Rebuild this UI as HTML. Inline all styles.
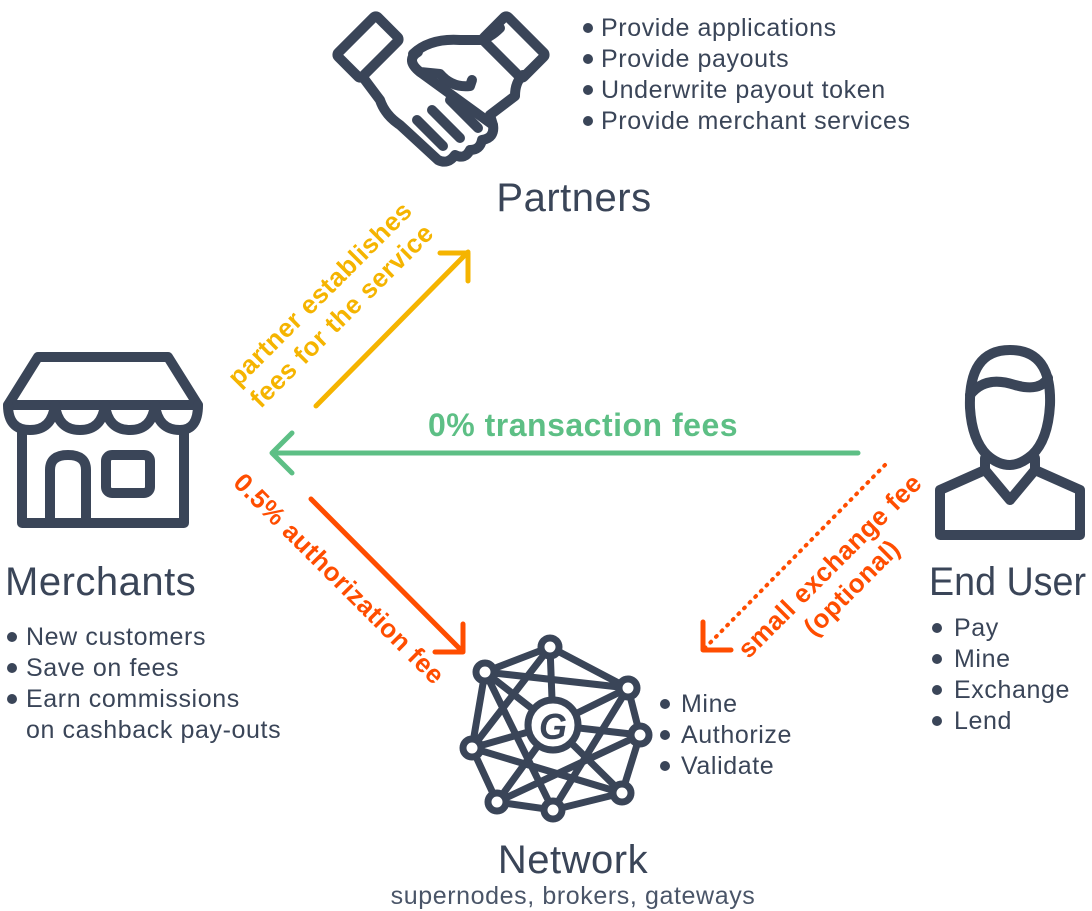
<!DOCTYPE html>
<html><head><meta charset="utf-8"><style>
body{margin:0;background:#fff;}
svg{display:block;font-family:"Liberation Sans",sans-serif;}
.d{fill:#3a4558}
.t{font-size:25px;fill:#3a4558;letter-spacing:0.6px}
.h{font-size:40px;fill:#3a4558;letter-spacing:0.5px}
</style></head><body>
<svg width="1092" height="911" viewBox="0 0 1092 911">
<g fill="none" stroke="#3a4558" stroke-width="10" stroke-linejoin="round" stroke-linecap="round">
 <rect x="340" y="30" width="56" height="34" transform="rotate(-45 368 47)" rx="3"/>
 <rect x="486" y="30" width="56" height="34" transform="rotate(45 514 47)" rx="3"/>
 <path d="M413 54 Q430 38 460 40 L480 40 Q490 38 500 28"/>
 <path d="M418 52 Q405 60 420 72 L440 74 Q452 88 470 86 L472 80"/>
 <path d="M365 80 L380 100 Q385 115 400 125 L438 160 Q448 165 455 155 Q465 160 470 150 Q480 150 482 140 Q495 138 493 125 L490 115 L515 96 Q515 82 523 75"/>
 <path d="M420 72 L493 125"/>
 <path d="M417 120 L443 146"/><path d="M432 110 L460 138"/><path d="M450 100 L478 128"/>
 <path d="M38 357 L168 357 L198 405 L8 405 Z"/>
 <path d="M8 405 Q8 430 30 430 Q52 430 55 405 Q58 430 80 430 Q102 430 105 405 Q108 430 130 430 Q152 430 155 405 Q158 430 180 430 Q198 430 198 405"/>
 <path d="M22 430 L22 523 L184 523 L184 430"/>
 <path d="M50 523 L50 470 Q50 455 68 455 Q86 455 86 470 L86 523"/>
 <rect x="106" y="455" width="44" height="38" rx="6"/>
 <path d="M970 408 Q968 350 1010 350 Q1052 350 1050 405 Q1048 440 1032 455 Q1020 465 1010 465 Q998 465 987 455 Q972 440 970 408 Z"/>
 <path d="M970 395 Q985 375 1015 385 Q1040 392 1048 378"/>
 <path d="M985 458 L985 470 L940 490 L940 535 L1080 535 L1080 490 L1035 470 L1035 458"/>
 <path d="M985 470 L1010 500 L1035 470"/>
</g>
<g stroke="#3a4558" stroke-width="7" fill="none" stroke-linecap="round">
 <path d="M550 647 L485 672 L628 688 L550 647 M628 688 L640 735 L622 793 L553 810 L497 802 L472 748 L485 672
 M550 647 L472 748 M550 647 L553 725 M485 672 L553 725 L622 793 M628 688 L553 725 M640 735 L553 725 L472 748 M553 725 L497 802
 M628 688 L553 810 M472 748 L622 793 M485 672 L553 810 M640 735 L497 802"/>
</g>
<g fill="#fff" stroke="#3a4558" stroke-width="7">
 <circle cx="550" cy="647" r="9"/><circle cx="485" cy="672" r="9"/><circle cx="628" cy="688" r="9"/><circle cx="640" cy="735" r="9"/>
 <circle cx="472" cy="748" r="9"/><circle cx="622" cy="793" r="9"/><circle cx="553" cy="810" r="9"/><circle cx="497" cy="802" r="9"/>
 <circle cx="553" cy="725" r="25"/>
</g>
<text x="553" y="739" text-anchor="middle" font-size="36" font-weight="bold" font-style="italic" class="d">G</text>
<g fill="none" stroke-width="5" stroke-linecap="round" stroke-linejoin="round">
 <path d="M316 406 L468 252 M440 253 L468 253 L468 281" stroke="#f5b400"/>
 <path d="M858 453 L272 453 M292 433 L272 453 L292 473" stroke="#5dbf85"/>
 <path d="M311 499 L463 652 M463 624 L463 652 L435 652" stroke="#ff4d00"/>
 <path d="M885 465 L705 648" stroke="#ff4d00" stroke-width="4" stroke-dasharray="1 7"/>
 <path d="M703 622 L703 650 L731 650" stroke="#ff4d00"/>
</g>
<g font-size="26" font-weight="bold" letter-spacing="0.5">
 <text transform="translate(326 300) rotate(-45)" text-anchor="middle" fill="#f5b400"><tspan x="0" y="0">partner establishes</tspan><tspan x="0" y="31">fees for the service</tspan></text>
 <text x="583" y="436" text-anchor="middle" fill="#5dbf85" font-size="32">0% transaction fees</text>
 <text transform="translate(333 585) rotate(45)" text-anchor="middle" fill="#ff4d00">0.5% authorization fee</text>
 <text transform="translate(836 572) rotate(-45)" text-anchor="middle" fill="#ff4d00"><tspan x="0" y="0">small exchange fee</tspan><tspan x="0" y="31">(optional)</tspan></text>
</g>
<text x="574" y="211" text-anchor="middle" class="h">Partners</text>
<text x="5" y="595" class="h">Merchants</text>
<text x="929" y="595" class="h" textLength="157" lengthAdjust="spacingAndGlyphs" style="letter-spacing:0">End User</text>
<text x="573" y="873" text-anchor="middle" class="h">Network</text>
<text x="573" y="904" text-anchor="middle" class="t" style="fill:#4a5568">supernodes, brokers, gateways</text>
<g class="d">
 <circle cx="588" cy="28" r="5"/><circle cx="588" cy="59" r="5"/><circle cx="588" cy="90" r="5"/><circle cx="588" cy="121" r="5"/>
 <circle cx="12" cy="637" r="5"/><circle cx="12" cy="668" r="5"/><circle cx="12" cy="699" r="5"/>
 <circle cx="665" cy="704" r="5"/><circle cx="665" cy="735" r="5"/><circle cx="665" cy="766" r="5"/>
 <circle cx="937" cy="628" r="5"/><circle cx="937" cy="659" r="5"/><circle cx="937" cy="690" r="5"/><circle cx="937" cy="721" r="5"/>
</g>
<g class="t">
 <text x="601" y="36">Provide applications</text><text x="601" y="67">Provide payouts</text><text x="601" y="98">Underwrite payout token</text><text x="601" y="129">Provide merchant services</text>
 <text x="26" y="645">New customers</text><text x="26" y="676">Save on fees</text><text x="26" y="707">Earn commissions</text><text x="26" y="738">on cashback pay-outs</text>
 <text x="681" y="712">Mine</text><text x="681" y="743">Authorize</text><text x="681" y="774">Validate</text>
 <text x="954" y="636">Pay</text><text x="954" y="667">Mine</text><text x="954" y="698">Exchange</text><text x="954" y="729">Lend</text>
</g>
</svg>
</body></html>
